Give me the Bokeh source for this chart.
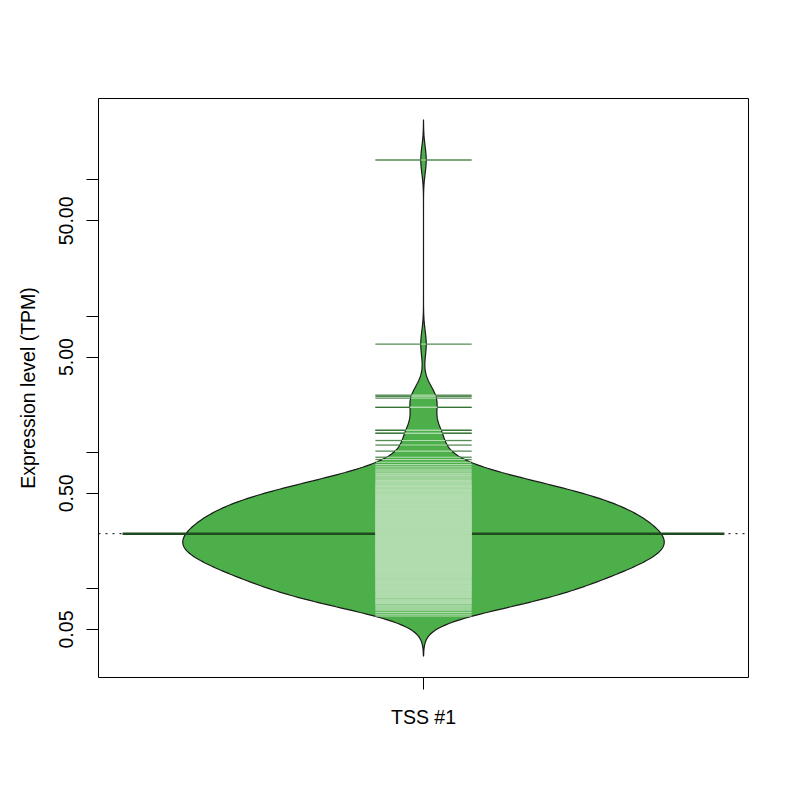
import numpy as np
from bokeh.plotting import figure
from bokeh.models import Range1d, FixedTicker, CustomJSTickFormatter
from bokeh.embed import file_html
from bokeh.resources import INLINE

# ---------------- data (TPM values) ----------------
group_label = "TSS #1"

tpm_low = [
    0.0628, 0.0647, 0.0668,
    0.0693, 0.0704, 0.0716, 0.0729, 0.0742,
    0.0754, 0.0769, 0.0777, 0.0785, 0.0794, 0.0802, 0.0811,
    0.0819, 0.0827, 0.0835, 0.0851, 0.0859, 0.0867, 0.0876, 0.0885,
    0.0893, 0.0901, 0.0910, 0.0919, 0.0937, 0.0946, 0.0955, 0.0964,
    0.0972, 0.0980, 0.0988, 0.0997, 0.1015, 0.1024, 0.1033, 0.1042, 0.1050,
    0.1057, 0.1066, 0.1075, 0.1085, 0.1104, 0.1114, 0.1124, 0.1134, 0.1143,
    0.1150, 0.1159, 0.1168, 0.1178, 0.1188, 0.1207, 0.1217, 0.1227, 0.1237, 0.1246,
    0.1252, 0.1262, 0.1272, 0.1282, 0.1292, 0.1302, 0.1312, 0.1322, 0.1333, 0.1344, 0.1355,
    0.1362, 0.1372, 0.1382, 0.1392, 0.1402, 0.1412, 0.1423, 0.1434, 0.1445, 0.1456, 0.1466, 0.1475,
    0.1482, 0.1493, 0.1504, 0.1515, 0.1526, 0.1537, 0.1548, 0.1560, 0.1572, 0.1584, 0.1595, 0.1605,
]

tpm_mid = [
    0.1613, 0.1624, 0.1635, 0.1646, 0.1657, 0.1668, 0.1680, 0.1692, 0.1704, 0.1716, 0.1727, 0.1738, 0.1747,
    0.1755, 0.1767, 0.1779, 0.1791, 0.1803, 0.1815, 0.1827, 0.1840, 0.1853, 0.1866, 0.1879, 0.1891, 0.1902,
    0.191, 0.192, 0.193, 0.195, 0.196, 0.197, 0.198, 0.199, 0.200, 0.201, 0.203, 0.204, 0.205, 0.206,
    0.208, 0.209, 0.210, 0.212, 0.213, 0.214, 0.215, 0.216, 0.218, 0.219, 0.220, 0.222, 0.223, 0.225,
    0.226, 0.228, 0.229, 0.230, 0.232, 0.233, 0.235, 0.236, 0.238, 0.239, 0.241, 0.242, 0.243, 0.245,
    0.246, 0.248, 0.250, 0.251, 0.253, 0.255, 0.256, 0.258, 0.260, 0.261, 0.263, 0.265, 0.267,
    0.268, 0.270, 0.272, 0.274, 0.275, 0.277, 0.279, 0.281, 0.283, 0.284, 0.286, 0.288, 0.290,
]

tpm_upper = [
    0.292, 0.294, 0.296, 0.298, 0.300, 0.303, 0.305, 0.307, 0.309, 0.311, 0.313, 0.315,
    0.318, 0.320, 0.322, 0.324, 0.326, 0.328, 0.331, 0.333, 0.335, 0.337, 0.339, 0.341, 0.343,
    0.346, 0.349, 0.351, 0.354, 0.356, 0.359, 0.361, 0.364, 0.366, 0.369, 0.371, 0.374,
    0.377, 0.380, 0.383, 0.386, 0.389, 0.392, 0.395, 0.398, 0.401, 0.404, 0.407,
    0.410, 0.413, 0.416, 0.420, 0.423, 0.426, 0.430, 0.433, 0.436, 0.440, 0.443,
    0.446, 0.450, 0.454, 0.458, 0.462, 0.466, 0.470, 0.474, 0.478, 0.482,
    0.486, 0.490, 0.495, 0.500, 0.504, 0.509, 0.514, 0.519, 0.524,
    0.528, 0.533, 0.538, 0.544, 0.549, 0.555, 0.560, 0.566, 0.571,
    0.577, 0.586, 0.594, 0.603, 0.611, 0.619,
    0.628, 0.639, 0.651, 0.662, 0.674,
    0.684, 0.700, 0.716, 0.731,
]

tpm_high = [
    0.752, 0.781, 0.812, 0.845, 0.885, 0.920, 1.02,
    1.13, 1.22, 1.38, 1.38, 1.45, 1.45,
    2.14, 2.14, 2.50, 2.58, 2.63,
    6.23,
    140.0,
]

y_tick_values = [0.05, 0.1, 0.5, 1, 5, 10, 50, 100]
y_tick_labels = ["0.05", "", "0.50", "", "5.00", "", "50.00", ""]

# ---------------- bean (density in log10 space) ----------------
vals = np.array(tpm_low + tpm_mid + tpm_upper + tpm_high, dtype=float)
logv = np.log10(vals)
n = len(vals)
bw = 0.098
center = 1.0
maxwidth = 0.8
ll = 0.16

lo = logv.min() - 3 * bw
hi = logv.max() + 3 * bw
grid = np.linspace(lo, hi, 512)
dens = np.exp(-0.5 * ((grid[:, None] - logv[None, :]) / bw) ** 2).sum(axis=1) / (n * bw * np.sqrt(2 * np.pi))
half = dens * (maxwidth / 2) / dens.max()

bean_x = np.concatenate([center - half, (center + half)[::-1]])
bean_y = 10 ** np.concatenate([grid, grid[::-1]])

pad = 0.04 * (hi - lo)
gmean = 10 ** logv.mean()

p = figure(
    frame_width=650, frame_height=579,
    x_range=Range1d(0.46, 1.54),
    y_range=Range1d(10 ** (lo - pad), 10 ** (hi + pad)),
    y_axis_type="log",
    output_backend="svg", toolbar_location=None,
    min_border_left=98, min_border_top=98, min_border_right=44, min_border_bottom=115,
    background_fill_color="white", border_fill_color="white",
)
p.grid.visible = False
p.outline_line_color = "black"
p.outline_line_width = 1

# overall (dotted) line
p.segment(x0=[0.46], x1=[1.54], y0=[gmean], y1=[gmean], line_color="black",
          line_width=1, line_dash="2 5")

# bean polygon
p.patch(bean_x, bean_y, fill_color="#4DAF4A", line_color="#1a1a1a", line_width=1.2)

# bean average line
p.segment(x0=[center - 0.5], x1=[center + 0.5], y0=[gmean], y1=[gmean],
          line_color="#1E4A1E", line_width=2.6)

# bean lines
w = np.interp(logv, grid, half)
wi = np.minimum(w, ll / 2)
out = w < ll / 2
p.segment(x0=np.full(out.sum(), center - ll / 2), x1=center - w[out], y0=vals[out], y1=vals[out],
          line_color="#2A6E2A", line_alpha=0.8, line_width=1.3)
p.segment(x0=center + w[out], x1=np.full(out.sum(), center + ll / 2), y0=vals[out], y1=vals[out],
          line_color="#2A6E2A", line_alpha=0.8, line_width=1.3)
p.segment(x0=center - wi, x1=center + wi, y0=vals, y1=vals,
          line_color="#B1DCAE", line_width=1.1)

# axes
font = "Liberation Sans"
for ax in (p.xaxis[0], p.yaxis[0]):
    ax.axis_line_color = None
    ax.major_tick_in = 0
    ax.major_tick_out = 12
    ax.major_tick_line_color = "black"
    ax.minor_tick_line_color = None
    ax.major_label_text_font = font
    ax.major_label_text_font_size = "19.5px"
    ax.major_label_text_color = "black"
    ax.axis_label_text_font = font
    ax.axis_label_text_font_size = "19.5px"
    ax.axis_label_text_font_style = "normal"
    ax.axis_label_text_color = "black"

p.xaxis.ticker = FixedTicker(ticks=[center])
p.xaxis.formatter = CustomJSTickFormatter(args=dict(lab=group_label), code="return lab;")
p.xaxis.major_label_standoff = 16

p.yaxis.ticker = FixedTicker(ticks=y_tick_values)
p.yaxis.formatter = CustomJSTickFormatter(
    args=dict(vals=y_tick_values, labs=y_tick_labels),
    code="""
    for (let i = 0; i < vals.length; i++) {
        if (Math.abs(tick - vals[i]) <= 1e-6 * vals[i]) { return labs[i]; }
    }
    return "";
    """)
p.yaxis.major_label_orientation = "vertical"
p.yaxis.major_label_standoff = 13
p.yaxis.axis_label = "Expression level (TPM)"
p.yaxis.axis_label_standoff = 18

open("out.html", "w").write(file_html(p, INLINE))
